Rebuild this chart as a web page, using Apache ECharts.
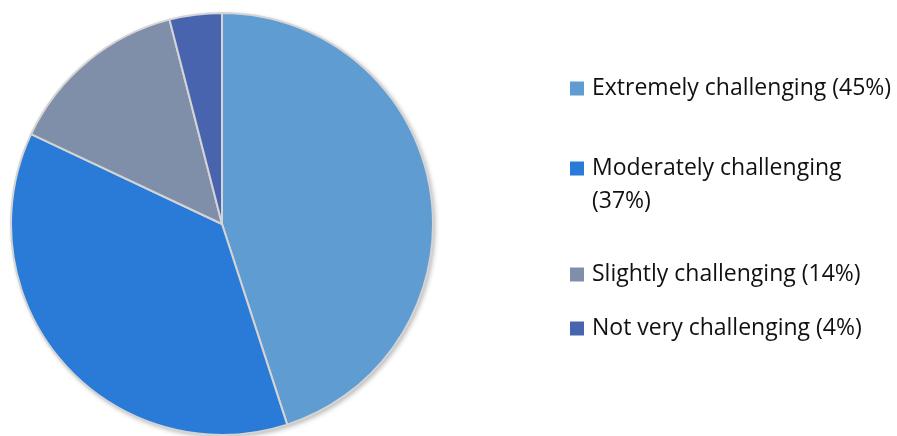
<!DOCTYPE html>
<html>
<head>
<meta charset="utf-8">
<script src="https://cdn.jsdelivr.net/npm/echarts@6/dist/echarts.min.js"></script>
<style>html,body{margin:0;padding:0;background:#fff;}#c{width:897px;height:436px;}</style>
</head>
<body>
<div id="c"></div>
<script>
var categories = ['Extremely challenging', 'Moderately challenging', 'Slightly challenging', 'Not very challenging'];
var values = [45, 37, 14, 4];
var colors = ['#5f9cd2', '#2a7bd7', '#7f8ea9', '#4964ae'];

var chart = echarts.init(document.getElementById('c'));
var font = 'Open Sans';
var legendTops = [72, 152, 258, 312];
var legends = categories.map(function (name, i) {
  var isWrap = (i === 1);
  return {
    show: true,
    orient: 'vertical',
    left: 570,
    top: legendTops[i],
    padding: 0,
    data: [name],
    itemWidth: 14,
    itemHeight: isWrap ? 47 : 14,
    icon: isWrap ? 'path://M0,0L14,0L14,14L0,14Z M0,47L14,47' : 'rect',
    itemStyle: { borderWidth: 0, shadowBlur: 0 },
    selectedMode: false,
    formatter: function (n) {
      var idx = categories.indexOf(n);
      if (idx === 1) return n + '\n(' + values[idx] + '%)';
      return n + ' (' + values[idx] + '%)';
    },
    textStyle: { fontFamily: font, fontSize: 23, color: '#111', lineHeight: 33, padding: [0, 0, 0, 3] }
  };
});

var total = values.reduce(function (a, b) { return a + b; }, 0);

chart.setOption({
  animation: false,
  color: colors,
  legend: legends,
  series: [{
    type: 'pie',
    name: 'shadow',
    silent: true,
    z: 1,
    center: [222, 224],
    radius: 211,
    label: { show: false },
    labelLine: { show: false },
    emphasis: { disabled: true },
    itemStyle: { color: '#d4d4d4', borderWidth: 0, shadowBlur: 5, shadowOffsetX: 2, shadowOffsetY: 2, shadowColor: 'rgba(0,0,0,0.3)' },
    data: [{ name: '_total', value: total }]
  }, {
    type: 'pie',
    z: 2,
    center: [222, 224],
    radius: 211,
    startAngle: 90,
    clockwise: true,
    label: { show: false },
    labelLine: { show: false },
    emphasis: { disabled: true },
    itemStyle: { borderColor: '#d4d4d4', borderWidth: 2 },
    data: categories.map(function (c, i) { return { name: c, value: values[i] }; })
  }]
});
</script>
</body>
</html>
